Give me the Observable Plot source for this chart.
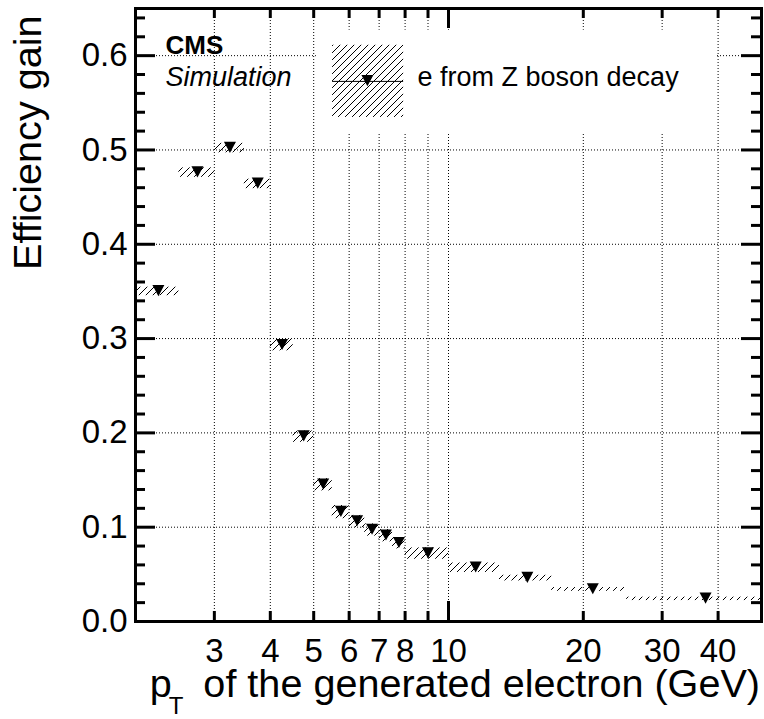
<!DOCTYPE html>
<html>
<head>
<meta charset="utf-8">
<script src="https://cdn.jsdelivr.net/npm/d3@7"></script>
<script src="https://cdn.jsdelivr.net/npm/@observablehq/plot@0.6"></script>
<style>
  html, body { margin: 0; padding: 0; background: #fff; }
  #chart svg { display: block; }
</style>
</head>
<body>
<div id="chart"></div>
<script>
// ---- data ----
const binLow    = [2, 2.5, 3, 3.5, 4, 4.5, 5, 5.5, 6, 6.5, 7, 7.5, 8, 10, 13, 17, 25];
const binHigh   = [2.5, 3, 3.5, 4, 4.5, 5, 5.5, 6, 6.5, 7, 7.5, 8, 10, 13, 17, 25, 50];
const binCenter = [2.25, 2.75, 3.25, 3.75, 4.25, 4.75, 5.25, 5.75, 6.25, 6.75, 7.25, 7.75, 9, 11.5, 15, 21, 37.5];
const gain      = [0.350, 0.476, 0.502, 0.464, 0.293, 0.196, 0.145, 0.116, 0.106, 0.097, 0.091, 0.083, 0.072, 0.057, 0.046, 0.034, 0.024];
const gainErr   = [0.0045, 0.005, 0.005, 0.005, 0.006, 0.006, 0.0065, 0.007, 0.0065, 0.0065, 0.0065, 0.006, 0.006, 0.005, 0.003, 0.002, 0.0018];

const xTickLabels = [3, 4, 5, 6, 7, 8, 10, 20, 30, 40];
const xMinorTicks = [3, 4, 5, 6, 7, 8, 9, 20, 30, 40];
const xMajorTicks = [10];
const xGridLines  = [3, 4, 5, 6, 7, 8, 9, 10, 20, 30, 40];
const yTickLabels = [0, 0.1, 0.2, 0.3, 0.4, 0.5, 0.6];
const yGridLines  = [0.1, 0.2, 0.3, 0.4, 0.5, 0.6];
const yMinorTicks = [0.02, 0.04, 0.06, 0.08, 0.12, 0.14, 0.16, 0.18, 0.22, 0.24, 0.26, 0.28,
                     0.32, 0.34, 0.36, 0.38, 0.42, 0.44, 0.46, 0.48, 0.52, 0.54, 0.56, 0.58, 0.62, 0.64];

const legendLabel = "e from Z boson decay";
const yTitle = "Efficiency gain";

const bins = binLow.map((lo, i) => ({
  lo, hi: binHigh[i], x: binCenter[i], y: gain[i], err: gainErr[i]
}));

// ---- layout ----
const W = 764, H = 719;
const mL = 135, mR = 3, mT = 8, mB = 98;
const fW = W - mL - mR, fH = H - mT - mB;
const font = '"Liberation Sans", Arial, Helvetica, sans-serif';
const hatch = "url(#hatch)";

const triangleDown = {
  draw(ctx, size) {
    const r = Math.sqrt(size / Math.PI);
    ctx.moveTo(-r, -1.05 * r);
    ctx.lineTo(r, -1.05 * r);
    ctx.lineTo(0, 0.8 * r);
    ctx.closePath();
  }
};

const grid = {stroke: "black", strokeWidth: 1, strokeDasharray: "1,2"};

const chart = Plot.plot({
  width: W, height: H,
  marginLeft: mL, marginRight: mR, marginTop: mT, marginBottom: mB,
  style: {fontFamily: font, background: "white", color: "black", overflow: "visible"},
  x: {type: "log", domain: [2, 50], axis: null},
  y: {domain: [0, 0.65], axis: null},
  marks: [
    // grid
    Plot.ruleX(xGridLines, {x: d => d, ...grid}),
    Plot.ruleY(yGridLines, {y: d => d, ...grid}),
    // legend background (hides grid)
    Plot.rect([0], {x1: 5.07, x2: 39.5, y1: 0.5175, y2: 0.627, fill: "white"}),
    // legend entry
    Plot.rect([0], {x1: 5.51, x2: 7.94, y1: 0.5345, y2: 0.611, fill: hatch}),
    Plot.ruleY([0.5727], {x1: 5.51, x2: 7.94, stroke: "black", strokeWidth: 1}),
    Plot.dot([0], {x: () => 6.59, y: () => 0.5727, symbol: triangleDown, r: 6, fill: "black", stroke: "none"}),
    Plot.text([legendLabel], {text: d => d, frameAnchor: "top-left", dx: 282, dy: 77.5,
      textAnchor: "start", lineAnchor: "bottom", fontSize: 27, fill: "black"}),
    // CMS label
    Plot.text(["CMS"], {text: d => d, frameAnchor: "top-left", dx: 30, dy: 45,
      textAnchor: "start", lineAnchor: "bottom", fontSize: 26, fontWeight: "bold", fill: "black"}),
    Plot.text(["Simulation"], {text: d => d, frameAnchor: "top-left", dx: 30, dy: 77,
      textAnchor: "start", lineAnchor: "bottom", fontSize: 27, fontStyle: "italic", fill: "black"}),
    // uncertainty bands
    Plot.rect(bins, {x1: "lo", x2: "hi", y1: d => d.y - d.err, y2: d => d.y + d.err, fill: hatch}),
    // points
    Plot.dot(bins, {x: "x", y: "y", symbol: triangleDown, r: 6, fill: "black", stroke: "none"}),
    // ticks (inside, all four sides)
    Plot.tickY(yTickLabels, {y: d => d, insetRight: fW - 20, strokeWidth: 3, stroke: "black"}),
    Plot.tickY(yMinorTicks, {y: d => d, insetRight: fW - 10, strokeWidth: 3, stroke: "black"}),
    Plot.tickY(yTickLabels, {y: d => d, insetLeft: fW - 20, strokeWidth: 3, stroke: "black"}),
    Plot.tickY(yMinorTicks, {y: d => d, insetLeft: fW - 10, strokeWidth: 3, stroke: "black"}),
    Plot.tickX(xMajorTicks, {x: d => d, insetTop: fH - 20, strokeWidth: 3, stroke: "black"}),
    Plot.tickX(xMinorTicks, {x: d => d, insetTop: fH - 10, strokeWidth: 3, stroke: "black"}),
    Plot.tickX(xMajorTicks, {x: d => d, insetBottom: fH - 20, strokeWidth: 3, stroke: "black"}),
    Plot.tickX(xMinorTicks, {x: d => d, insetBottom: fH - 10, strokeWidth: 3, stroke: "black"}),
    Plot.frame({stroke: "black", strokeWidth: 3}),
    // tick labels
    Plot.text(yTickLabels, {y: d => d, text: d => d3.format(".1f")(d), frameAnchor: "left", dx: -8,
      textAnchor: "end", lineAnchor: "middle", fontSize: 33, fill: "black"}),
    Plot.text(xTickLabels, {x: d => d, text: d => String(d), frameAnchor: "bottom", dy: 17,
      textAnchor: "middle", lineAnchor: "top", fontSize: 33, fill: "black"}),
    // y title
    Plot.text([yTitle], {text: d => d, frameAnchor: "top-left", dx: -95, dy: 7, rotate: -90,
      textAnchor: "end", lineAnchor: "bottom", fontSize: 39.6, fill: "black"})
  ]
});

// hatch pattern
const svg = d3.select(chart);
const defs = svg.insert("defs", ":first-child");
const pat = defs.append("pattern").attr("id", "hatch")
  .attr("patternUnits", "userSpaceOnUse").attr("width", 7).attr("height", 7);
pat.append("path").attr("d", "M0,7 L7,0 M-1,1 L1,-1 M6,8 L8,6")
  .attr("stroke", "black").attr("stroke-width", 1).attr("fill", "none");

// x title with subscript
const xt = svg.append("text")
  .attr("x", W - 4).attr("y", 697)
  .attr("text-anchor", "end")
  .attr("font-family", font)
  .attr("font-size", 39.6)
  .attr("fill", "black");
xt.append("tspan").text("p");
xt.append("tspan").attr("dx", -3).attr("dy", 17).attr("font-size", 24).text("T");
xt.append("tspan").attr("dx", 9).attr("dy", -17).text(" of the generated electron (GeV)");

document.getElementById("chart").appendChild(chart);
</script>
</body>
</html>
